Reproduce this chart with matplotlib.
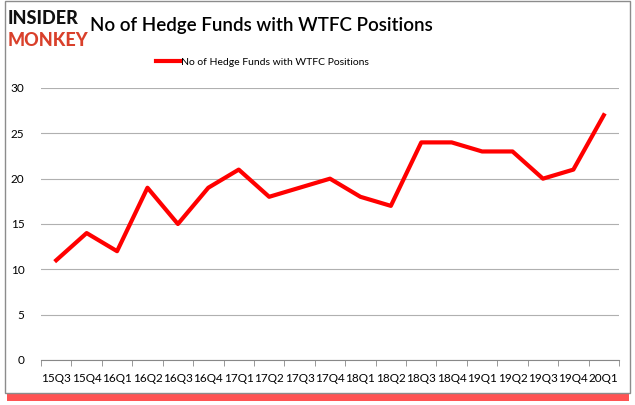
import matplotlib
matplotlib.use("Agg")
import matplotlib.pyplot as plt
from matplotlib.patches import Rectangle

quarters = ["15Q3", "15Q4", "16Q1", "16Q2", "16Q3", "16Q4", "17Q1", "17Q2", "17Q3", "17Q4",
            "18Q1", "18Q2", "18Q3", "18Q4", "19Q1", "19Q2", "19Q3", "19Q4", "20Q1"]
funds = [11, 14, 12, 19, 15, 19, 21, 18, 19, 20, 18, 17, 24, 24, 23, 23, 20, 21, 27]
series_name = "No of Hedge Funds with WTFC Positions"

plt.rcParams["font.family"] = ["Lato", "DejaVu Sans"]

fig = plt.figure(figsize=(6.35, 4.05), dpi=100)
fig.patch.set_facecolor("white")

# red shadow + gray frame around the chart
fig.patches.append(Rectangle((7 / 635, 1 - 401 / 405), 622 / 635, 8 / 405,
                             transform=fig.transFigure, facecolor="#ff1a1a", edgecolor="none", alpha=0.75, zorder=0))
fig.patches.append(Rectangle((5 / 635, 1 - 393 / 405), 625 / 635, 392 / 405,
                             transform=fig.transFigure, facecolor="white", edgecolor="#8c8c8c", lw=1, zorder=1))

ax = fig.add_axes([41 / 635, 1 - 360 / 405, 578 / 635, 272 / 405])
ax.set_zorder(2)
x = range(len(quarters))
ax.plot(x, funds, color="#ff0000", lw=3, label=series_name)
ax.set_xlim(-0.5, len(quarters) - 0.5)
ax.set_ylim(0, 30)
ax.set_yticks(range(0, 31, 5))
ax.set_xticks(list(x))
ax.set_xticklabels(quarters)
ax.set_xticks([i - 0.5 for i in range(len(quarters) + 1)], minor=True)
ax.tick_params(axis="x", which="major", length=0, labelsize=8.5, pad=9)
ax.tick_params(axis="x", which="minor", length=4, color="#888888")
ax.tick_params(axis="y", length=0, labelsize=8.5, pad=12)
ax.grid(axis="y", color="#b0b0b0", lw=0.8)
ax.set_axisbelow(True)
for s in ["top", "right", "left"]:
    ax.spines[s].set_visible(False)
ax.spines["bottom"].set_color("#888888")

ax.legend(loc="center", bbox_to_anchor=((262 - 41) / 578, 1 + 26 / 272), frameon=False, fontsize=7.5,
          handlelength=2.3, handletextpad=0.1)

fig.text(261 / 635, 1 - 25 / 405, series_name, ha="center", va="center", fontsize=13.5, fontweight="semibold", zorder=3)
fig.text(8 / 635, 1 - 19 / 405, "INSIDER", ha="left", va="center", fontsize=13, fontweight="black",
         color="#111111", zorder=3)
fig.text(8 / 635, 1 - 40 / 405, "MONKEY", ha="left", va="center", fontsize=13, fontweight="black",
         color="#d9402b", zorder=3)

fig.savefig("out.png", dpi=100)
